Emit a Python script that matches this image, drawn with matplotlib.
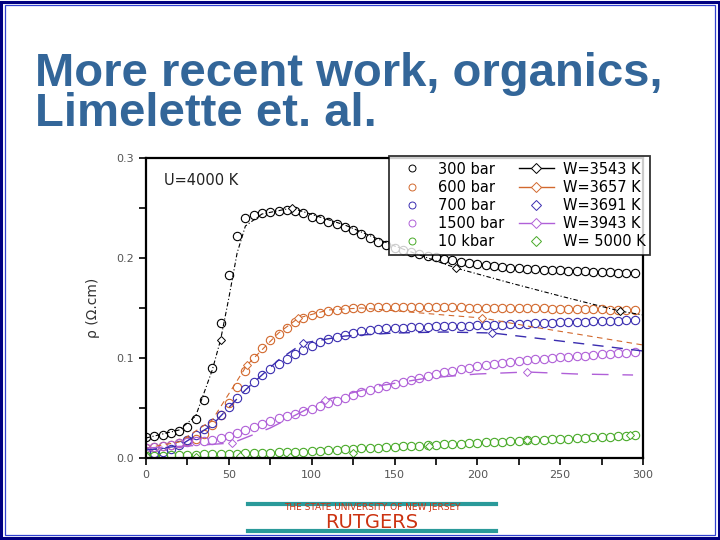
import matplotlib.pyplot as plt
from matplotlib.lines import Line2D
from matplotlib.patches import Rectangle

# temperature grid of the measured curves (K)
T = list(range(0, 300, 5))

rho_300bar = [0.021, 0.022, 0.023, 0.025, 0.027, 0.031, 0.039, 0.058, 0.090, 0.135,
              0.183, 0.222, 0.240, 0.243, 0.245, 0.246, 0.247, 0.248, 0.247, 0.245,
              0.241, 0.239, 0.236, 0.234, 0.231, 0.228, 0.224, 0.220, 0.216, 0.213,
              0.210, 0.208, 0.206, 0.204, 0.202, 0.201, 0.199, 0.198, 0.196, 0.195,
              0.194, 0.193, 0.192, 0.191, 0.190, 0.190, 0.189, 0.189, 0.188, 0.188,
              0.188, 0.187, 0.187, 0.187, 0.186, 0.186, 0.186, 0.185, 0.185, 0.185]
rho_600bar = [0.010, 0.011, 0.012, 0.013, 0.015, 0.017, 0.019, 0.024, 0.033, 0.043,
              0.055, 0.071, 0.087, 0.100, 0.110, 0.118, 0.124, 0.130, 0.136, 0.140,
              0.143, 0.145, 0.147, 0.148, 0.149, 0.150, 0.150, 0.151, 0.151, 0.151,
              0.151, 0.151, 0.151, 0.151, 0.151, 0.151, 0.151, 0.151, 0.151, 0.150,
              0.150, 0.150, 0.150, 0.150, 0.150, 0.150, 0.150, 0.150, 0.150, 0.149,
              0.149, 0.149, 0.149, 0.149, 0.149, 0.149, 0.148, 0.148, 0.148, 0.148]
rho_700bar = [0.006, 0.005, 0.006, 0.009, 0.013, 0.018, 0.023, 0.029, 0.035, 0.043,
              0.051, 0.060, 0.069, 0.076, 0.083, 0.089, 0.094, 0.099, 0.104, 0.108,
              0.112, 0.116, 0.119, 0.121, 0.123, 0.125, 0.127, 0.128, 0.129, 0.130,
              0.130, 0.130, 0.131, 0.131, 0.131, 0.132, 0.132, 0.132, 0.132, 0.132,
              0.133, 0.133, 0.133, 0.133, 0.134, 0.134, 0.134, 0.135, 0.135, 0.135,
              0.136, 0.136, 0.136, 0.136, 0.137, 0.137, 0.137, 0.137, 0.138, 0.138]
rho_1500bar = [0.010, 0.011, 0.012, 0.013, 0.015, 0.016, 0.017, 0.017, 0.018, 0.020,
               0.022, 0.025, 0.028, 0.031, 0.034, 0.037, 0.040, 0.042, 0.044, 0.047,
               0.049, 0.052, 0.055, 0.057, 0.060, 0.063, 0.066, 0.068, 0.070, 0.072,
               0.074, 0.076, 0.078, 0.080, 0.082, 0.084, 0.086, 0.087, 0.089, 0.090,
               0.092, 0.093, 0.094, 0.095, 0.096, 0.097, 0.098, 0.099, 0.099, 0.100,
               0.101, 0.101, 0.102, 0.102, 0.103, 0.104, 0.104, 0.105, 0.105, 0.106]
rho_10kbar = [0.002, 0.002, 0.002, 0.003, 0.003, 0.003, 0.003, 0.004, 0.004, 0.004,
              0.004, 0.004, 0.005, 0.005, 0.005, 0.005, 0.006, 0.006, 0.006, 0.006,
              0.007, 0.007, 0.008, 0.008, 0.009, 0.009, 0.010, 0.010, 0.010, 0.011,
              0.011, 0.012, 0.012, 0.012, 0.013, 0.013, 0.014, 0.014, 0.014, 0.015,
              0.015, 0.016, 0.016, 0.016, 0.017, 0.017, 0.018, 0.018, 0.018, 0.019,
              0.019, 0.019, 0.020, 0.020, 0.021, 0.021, 0.021, 0.022, 0.022, 0.023]

# DMFT curves
T_w3543 = [0, 20, 30, 40, 45, 50, 55, 60, 70, 88, 120, 150, 187, 220, 250, 286, 300]
rho_w3543 = [0.020, 0.028, 0.042, 0.088, 0.118, 0.160, 0.205, 0.232, 0.244, 0.250,
             0.233, 0.212, 0.190, 0.175, 0.162, 0.147, 0.143]
T_w3657 = [0, 20, 40, 61, 80, 92, 110, 130, 159, 180, 203, 230, 260, 300]
rho_w3657 = [0.010, 0.016, 0.038, 0.093, 0.125, 0.140, 0.148, 0.150, 0.146, 0.143,
             0.140, 0.132, 0.124, 0.113]
T_w3691 = [0, 20, 40, 60, 80, 95, 120, 150, 180, 209, 240, 270, 300]
rho_w3691 = [0.008, 0.012, 0.033, 0.068, 0.098, 0.115, 0.122, 0.125, 0.126, 0.125,
             0.119, 0.113, 0.107]
T_w3943 = [0, 25, 52, 75, 108, 140, 170, 200, 230, 260, 294]
rho_w3943 = [0.010, 0.012, 0.015, 0.030, 0.058, 0.072, 0.080, 0.084, 0.086, 0.084, 0.083]
T_w5000 = [0, 30, 57, 87, 125, 171, 230, 292]
rho_w5000 = [0.002, 0.0015, 0.002, 0.0015, 0.005, 0.012, 0.018, 0.023]

black = '#000000'
orange = '#D2692E'
blue = '#3A2DB0'
violet = '#B060D8'
green = '#48AA28'

fig = plt.figure(figsize=(7.2, 5.4), dpi=100)

# slide border
fig.patches.append(Rectangle((0.002, 0.003), 0.996, 0.994, transform=fig.transFigure,
                             fill=False, edgecolor='#000080', linewidth=2.2))
fig.patches.append(Rectangle((0.007, 0.009), 0.986, 0.982, transform=fig.transFigure,
                             fill=False, edgecolor='#3040D0', linewidth=0.9))

title_font = ['Liberation Sans Narrow', 'Liberation Sans', 'DejaVu Sans']
fig.text(35 / 720, 1 - 86 / 540, "More recent work, organics,", fontsize=34,
         fontweight='bold', color='#336699', family=title_font, va='baseline')
fig.text(35 / 720, 1 - 126 / 540, "Limelette et. al.", fontsize=34,
         fontweight='bold', color='#336699', family=title_font, va='baseline')

ax = fig.add_axes([146 / 720, 1 - 458 / 540, 497 / 720, 300 / 540])

mk = dict(ls='none', marker='o', mfc='none', ms=6, mew=0.8)
ax.plot(T, rho_300bar, mec=black, **mk)
ax.plot(T, rho_600bar, mec=orange, **mk)
ax.plot(T, rho_700bar, mec=blue, **mk)
ax.plot(T, rho_1500bar, mec=violet, **mk)
ax.plot(T, rho_10kbar, mec=green, **mk)

ax.plot(T_w3543, rho_w3543, color=black, lw=0.8, ls=(0, (4, 2, 1, 2)),
        marker='D', ms=4, mfc='white', mec=black, mew=0.7, markevery=[4, 9, 12, 15])
ax.plot(T_w3657, rho_w3657, color=orange, lw=0.8, ls=(0, (5, 4)),
        marker='D', ms=4, mfc='white', mec=orange, mew=0.7, markevery=[3, 5, 10])
ax.plot(T_w3691, rho_w3691, color=blue, lw=1.0, ls=(0, (8, 6)),
        marker='D', ms=4, mfc='white', mec=blue, mew=0.7, markevery=[5, 9])
ax.plot(T_w3943, rho_w3943, color=violet, lw=1.0, ls=(0, (12, 10)),
        marker='D', ms=4, mfc='white', mec=violet, mew=0.7, markevery=[2, 4, 8])
ax.plot(T_w5000, rho_w5000, 'D', ms=4, mfc='white', mec=green, mew=0.7)

ax.set_xlim(0, 300)
ax.set_ylim(0, 0.3)
ax.set_xticks(range(0, 301, 50))
ax.set_xticks(range(25, 300, 50), minor=True)
ax.set_yticks([0.0, 0.1, 0.2, 0.3])
ax.set_yticklabels(['0.0', '0.1', '0.2', '0.3'])
ax.set_yticks([0.05, 0.15, 0.25], minor=True)
ax.tick_params(which='both', direction='out', length=5, width=1.2, labelsize=8,
               labelcolor='#555555')
for s in ax.spines.values():
    s.set_linewidth(1.6)
ax.set_ylabel(u"\u03c1 (\u03a9.cm)", fontsize=10, color='#333333', labelpad=12)

ax.text(11, 0.273, "U=4000 K", fontsize=10.5, color='#222222')

handles = [
    Line2D([], [], ls='none', marker='o', mfc='none', mec=black, ms=5, mew=0.7),
    Line2D([], [], ls='none', marker='o', mfc='none', mec=orange, ms=5, mew=0.7),
    Line2D([], [], ls='none', marker='o', mfc='none', mec=blue, ms=5, mew=0.7),
    Line2D([], [], ls='none', marker='o', mfc='none', mec=violet, ms=5, mew=0.7),
    Line2D([], [], ls='none', marker='o', mfc='none', mec=green, ms=5, mew=0.7),
    Line2D([], [], color=black, lw=1, marker='D', mfc='white', mec=black, ms=5, mew=0.7),
    Line2D([], [], color=orange, lw=1, marker='D', mfc='white', mec=orange, ms=5, mew=0.7),
    Line2D([], [], ls='none', marker='D', mfc='white', mec=blue, ms=5, mew=0.7),
    Line2D([], [], color=violet, lw=1, marker='D', mfc='white', mec=violet, ms=5, mew=0.7),
    Line2D([], [], ls='none', marker='D', mfc='white', mec=green, ms=5, mew=0.7),
]
labels = ["300 bar", "600 bar", "700 bar", "1500 bar", "10 kbar",
          "W=3543 K", "W=3657 K", "W=3691 K", "W=3943 K", "W= 5000 K"]
leg = ax.legend(handles, labels, ncol=2, loc='upper right', bbox_to_anchor=(1.015, 1.005),
                fontsize=10.5, frameon=True, fancybox=False, edgecolor='black',
                handlelength=2.4, handletextpad=0.6, columnspacing=1.0,
                labelspacing=0.22, borderpad=0.35, borderaxespad=0)
leg.get_frame().set_linewidth(1.3)

# footer
fig.add_artist(Line2D([248 / 720, 496 / 720], [1 - 504 / 540, 1 - 504 / 540],
                      color='#2A9A9A', lw=3))
fig.add_artist(Line2D([248 / 720, 496 / 720], [1 - 531 / 540, 1 - 531 / 540],
                      color='#2A9A9A', lw=3))
fig.text(372 / 720, 1 - 507 / 540, "THE STATE UNIVERSITY OF NEW JERSEY", fontsize=6.5,
         color='#CC3311', ha='center', va='center')
fig.text(372 / 720, 1 - 522 / 540, "RUTGERS", fontsize=14, color='#CC3311',
         ha='center', va='center')

fig.savefig("out.png", dpi=100)
